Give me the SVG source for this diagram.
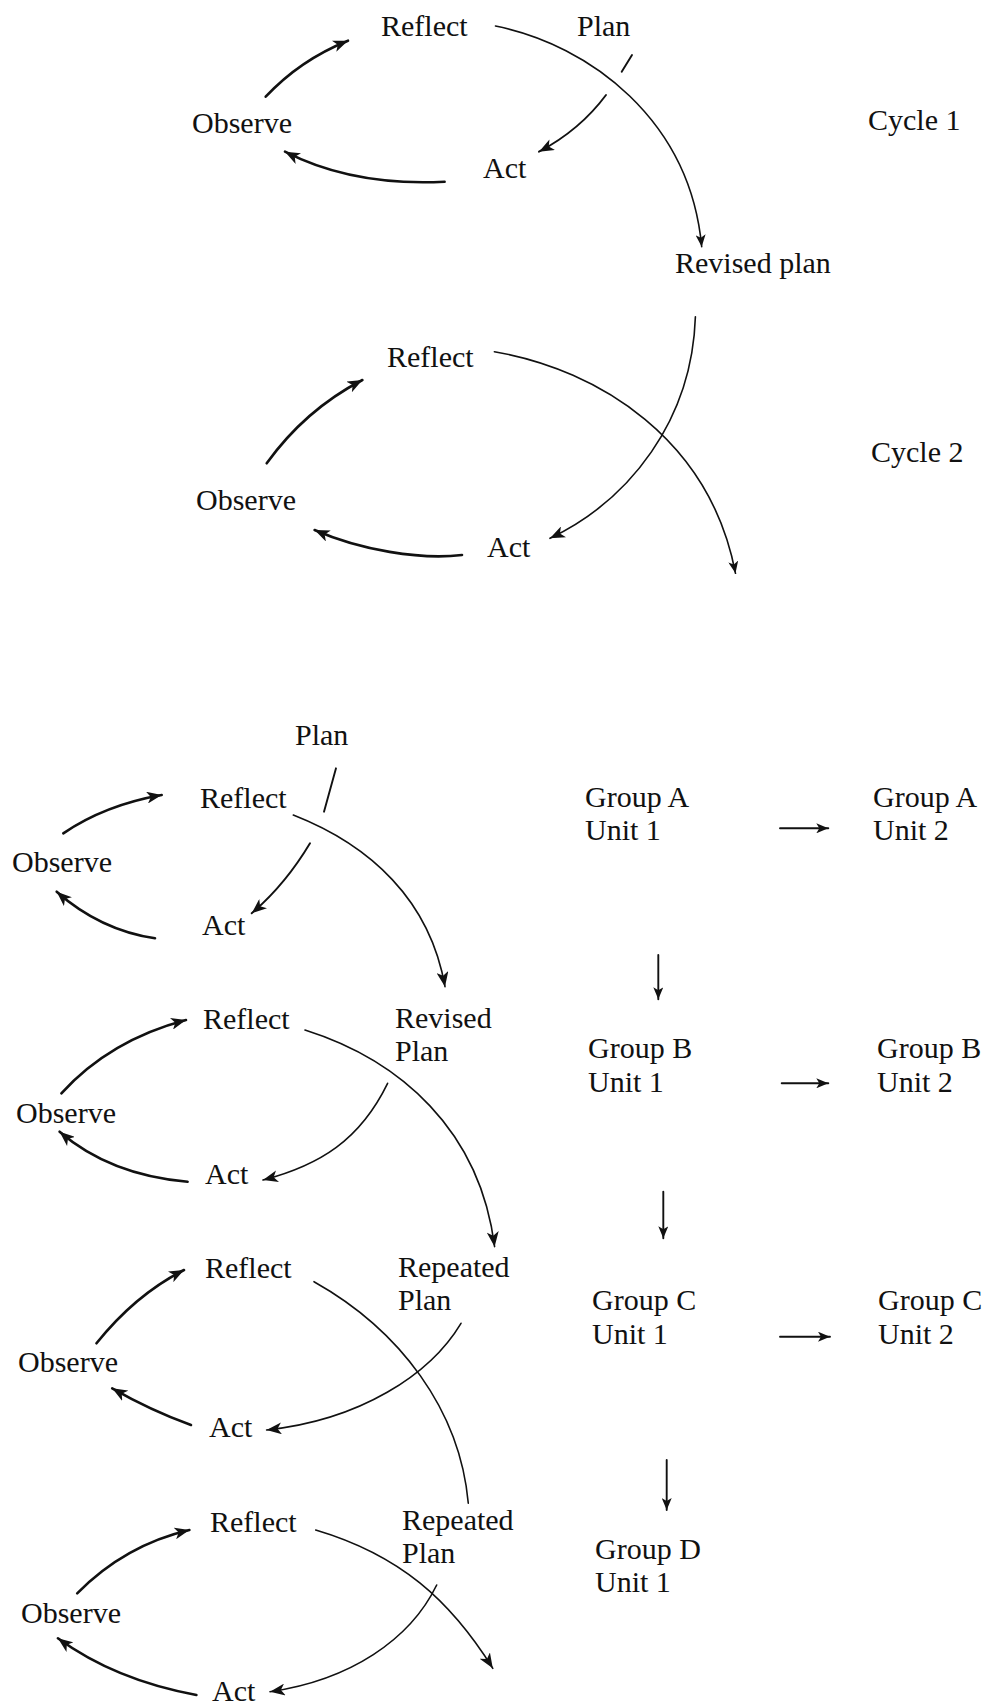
<svg xmlns="http://www.w3.org/2000/svg" width="993" height="1706" viewBox="0 0 993 1706">
<defs>
<style>
text{font-family:"Liberation Serif","Times New Roman",serif;font-size:30px;fill:#111}
.thick{fill:none;stroke:#111;stroke-width:2.6;stroke-linecap:round}
.thin{fill:none;stroke:#111;stroke-width:1.6;stroke-linecap:round}
.mid{fill:none;stroke:#111;stroke-width:1.9;stroke-linecap:round}
</style>
<marker id="ah" markerUnits="userSpaceOnUse" markerWidth="16" markerHeight="12" viewBox="0 0 16 12" refX="15" refY="6" orient="auto">
<path d="M0,0 L15,6 L0,12 L4,6 z" fill="#111"/>
</marker>
<marker id="ahs" markerUnits="userSpaceOnUse" markerWidth="13" markerHeight="10" viewBox="0 0 13 10" refX="12" refY="5" orient="auto">
<path d="M0,0 L12,5 L0,10 L3,5 z" fill="#111"/>
</marker>
</defs>
<rect width="993" height="1706" fill="#fff"/>

<g id="connectors">
<!-- Cycle 1 -->
<path class="thick" d="M265.7,96.7 Q300,60 348,40.7" marker-end="url(#ah)"/>
<path class="thick" d="M444.6,181.7 C400,184 340,180 285,151.7" marker-end="url(#ah)"/>
<path class="mid" d="M632,55 L621.7,71.7"/>
<path class="mid" d="M606,95 Q580,130 539,151.7" marker-end="url(#ah)"/>
<path class="thin" d="M495.5,26 C590,45 690,120 701.7,246.7" marker-end="url(#ahs)"/>
<!-- Cycle 2 -->
<path class="thick" d="M266.7,463.3 Q305,410 362.4,380" marker-end="url(#ah)"/>
<path class="thick" d="M462,555 C420,560 360,550 314.6,530" marker-end="url(#ah)"/>
<path class="thin" d="M695.4,316.7 C692,420 630,500 550,538.3" marker-end="url(#ah)"/>
<path class="thin" d="M494.4,351.7 C600,370 710,440 735.5,573.3" marker-end="url(#ahs)"/>
<!-- Block 1 -->
<path class="thick" d="M63.3,833.3 Q105,805 161.7,795" marker-end="url(#ah)"/>
<path class="thick" d="M155,938.3 Q100,930 56.7,891.7" marker-end="url(#ah)"/>
<path class="mid" d="M336,768.3 L324,811.7"/>
<path class="mid" d="M310,843.3 Q285,885 251.7,913.3" marker-end="url(#ah)"/>
<path class="thin" d="M293.3,815 C370,845 430,900 445,986.7" marker-end="url(#ah)"/>
<!-- Block 2 -->
<path class="thick" d="M61.4,1093.3 Q110,1040 186,1020" marker-end="url(#ah)"/>
<path class="thick" d="M187.6,1181.7 Q110,1175 59.6,1131.7" marker-end="url(#ah)"/>
<path class="thin" d="M387.6,1083.3 C360,1140 320,1165 263,1180" marker-end="url(#ah)"/>
<path class="thin" d="M305,1030 C400,1060 480,1130 494.6,1246.7" marker-end="url(#ah)"/>
<!-- Block 3 -->
<path class="thick" d="M96.5,1343.3 Q135,1295 184,1270" marker-end="url(#ah)"/>
<path class="thick" d="M191,1425 Q150,1410 112.2,1388.3" marker-end="url(#ah)"/>
<path class="thin" d="M461,1323.3 C430,1375 360,1420 266.6,1430" marker-end="url(#ah)"/>
<path class="thin" d="M314,1281.7 C400,1330 460,1410 468.3,1503.3"/>
<!-- Block 4 -->
<path class="thick" d="M77.2,1593.3 Q125,1545 189.4,1530" marker-end="url(#ah)"/>
<path class="thick" d="M196.4,1695 Q115,1680 57.9,1638.3" marker-end="url(#ah)"/>
<path class="thin" d="M436.7,1585 C410,1640 350,1680 270,1691.7" marker-end="url(#ah)"/>
<path class="thin" d="M315.7,1530 C400,1555 450,1600 492.8,1668.3" marker-end="url(#ah)"/>
<!-- Groups -->
<path class="mid" d="M780,828.3 L828.3,828.3" marker-end="url(#ahs)"/>
<path class="mid" d="M658.3,955 L658.3,999.3" marker-end="url(#ahs)"/>
<path class="mid" d="M781.7,1083.3 L828.3,1083.3" marker-end="url(#ahs)"/>
<path class="mid" d="M663.3,1191.7 L663.3,1238.3" marker-end="url(#ahs)"/>
<path class="mid" d="M780,1336.7 L830,1336.7" marker-end="url(#ahs)"/>
<path class="mid" d="M666.7,1460 L666.7,1510" marker-end="url(#ahs)"/>
</g>

<g id="cycle1">
<text x="381" y="36">Reflect</text>
<text x="577" y="36">Plan</text>
<text x="192" y="133">Observe</text>
<text x="483" y="178">Act</text>
<text x="675" y="273">Revised plan</text>
<text x="868" y="130">Cycle 1</text>
</g>
<g id="cycle2">
<text x="387" y="367">Reflect</text>
<text x="196" y="510">Observe</text>
<text x="487" y="557">Act</text>
<text x="871" y="462">Cycle 2</text>
</g>
<g id="block1">
<text x="295" y="745">Plan</text>
<text x="200" y="808">Reflect</text>
<text x="12" y="872">Observe</text>
<text x="202" y="935">Act</text>
</g>
<g id="block2">
<text x="203" y="1029">Reflect</text>
<text x="395" y="1028">Revised</text>
<text x="395" y="1061">Plan</text>
<text x="16" y="1123">Observe</text>
<text x="205" y="1184">Act</text>
</g>
<g id="block3">
<text x="205" y="1278">Reflect</text>
<text x="398" y="1277">Repeated</text>
<text x="398" y="1310">Plan</text>
<text x="18" y="1372">Observe</text>
<text x="209" y="1437">Act</text>
</g>
<g id="block4">
<text x="210" y="1532">Reflect</text>
<text x="402" y="1530">Repeated</text>
<text x="402" y="1563">Plan</text>
<text x="21" y="1623">Observe</text>
<text x="212" y="1701">Act</text>
</g>
<g id="groupA1"><text x="585" y="807">Group A</text><text x="585" y="840">Unit 1</text></g>
<g id="groupA2"><text x="873" y="807">Group A</text><text x="873" y="840">Unit 2</text></g>
<g id="groupB1"><text x="588" y="1058">Group B</text><text x="588" y="1092">Unit 1</text></g>
<g id="groupB2"><text x="877" y="1058">Group B</text><text x="877" y="1092">Unit 2</text></g>
<g id="groupC1"><text x="592" y="1310">Group C</text><text x="592" y="1344">Unit 1</text></g>
<g id="groupC2"><text x="878" y="1310">Group C</text><text x="878" y="1344">Unit 2</text></g>
<g id="groupD1"><text x="595" y="1559">Group D</text><text x="595" y="1592">Unit 1</text></g>
</svg>
